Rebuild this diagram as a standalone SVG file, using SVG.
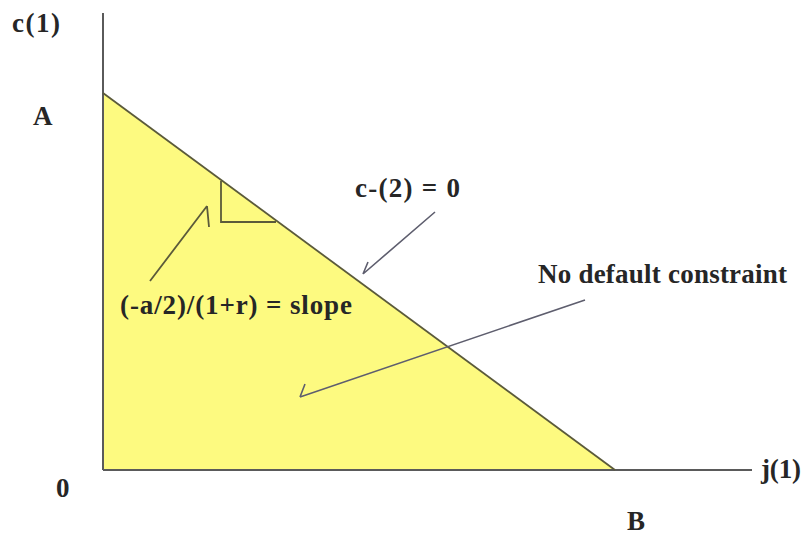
<svg xmlns="http://www.w3.org/2000/svg" width="802" height="539" viewBox="0 0 802 539">
<style>
.t{font-family:"Liberation Serif",serif;font-size:27px;font-weight:bold;fill:#262626}
.ax{stroke:#5a5a5a;stroke-width:2;fill:none}
.ln{stroke:#5b5a3a;stroke-width:1.8;fill:none}
.ar{stroke:#5e5e6e;stroke-width:1.6;fill:none}
</style>
<rect width="802" height="539" fill="#ffffff"/>
<g id="region">
<polygon points="103,93 103,470 615,470" fill="#fdfa80"/>
</g>
<g id="axes">
<line class="ax" x1="103" y1="13" x2="103" y2="470"/>
<line class="ax" x1="103" y1="470" x2="752" y2="470"/>
</g>
<g id="constraint">
<line class="ln" x1="103" y1="93" x2="615" y2="470"/>
<polyline class="ln" points="221,181 221,222 276,222"/>
</g>
<g id="connectors">
<path class="ar" d="M435,212 L363,274 M363,274 L368,262"/>
<path class="ar" d="M585,300 L300,397 M300,397 L305,384"/>
<path class="ln" d="M150,281 L207,206 M207,206 L209,227"/>
</g>
<g id="labels">
<text class="t" x="12" y="32" textLength="48" lengthAdjust="spacing">c(1)</text>
<text class="t" x="33" y="125">A</text>
<text class="t" x="355" y="197" textLength="105" lengthAdjust="spacing">c-(2) = 0</text>
<text class="t" x="538" y="283" textLength="249" lengthAdjust="spacing">No default constraint</text>
<text class="t" x="120" y="314" textLength="232" lengthAdjust="spacing">(-a/2)/(1+r) = slope</text>
<text class="t" x="56" y="497">0</text>
<text class="t" x="761" y="478" textLength="40" lengthAdjust="spacing">j(1)</text>
<text class="t" x="627" y="530">B</text>
</g>
</svg>
